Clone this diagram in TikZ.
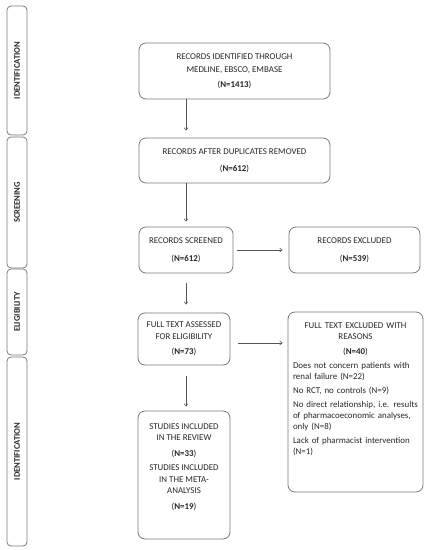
\documentclass[tikz,border=0pt]{standalone}
\usepackage{fontspec}
\setmainfont{Carlito}
\usetikzlibrary{arrows.meta}
\definecolor{boxgray}{HTML}{7A7A7A}
\definecolor{txt}{HTML}{262626}
\definecolor{arr}{HTML}{555555}
\begin{document}
\begin{tikzpicture}[x=1pt,y=-1pt,
  box/.style={draw=boxgray, line width=0.8pt, rounded corners=7pt, align=center,
    inner sep=2pt, text=txt, font=\fontsize{8.9}{11.5}\selectfont},
  phase/.style={draw=boxgray, line width=0.8pt, rounded corners=4pt, rotate=90,
    minimum height=20pt, inner sep=0pt, text=txt, font=\fontsize{8.6}{10}\selectfont\bfseries},
  conn/.style={draw=arr, line width=0.6pt, -{Straight Barb[length=2.5pt,width=4pt]}},
  lbl/.style={align=left, text=txt, inner sep=0pt, text width=125pt,
    font=\fontsize{8.9}{11}\selectfont}
]
\useasboundingbox (0,0) rectangle (428,550);
% phases
\node[phase, minimum width=129pt] (p1) at (17,70.5) {IDENTIFICATION};
\node[phase, minimum width=131pt] (p2) at (17,202.5) {SCREENING};
\node[phase, minimum width=86pt] (p3) at (17,312) {ELIGIBILITY};
\node[phase, minimum width=189pt] (p4) at (17,451.5) {IDENTIFICATION};
% boxes
\node[box, minimum width=191pt, minimum height=56pt] (b1) at (234.5,71)
  {RECORDS IDENTIFIED THROUGH\\[1.5pt] MEDLINE, EBSCO, EMBASE\\[4pt] (\textbf{N=1413})};
\node[box, minimum width=191pt, minimum height=45pt] (b2) at (234.5,160.5)
  {RECORDS AFTER DUPLICATES REMOVED\\[5pt] (\textbf{N=612})};
\node[box, minimum width=94pt, minimum height=46pt] (b3) at (186,250)
  {RECORDS SCREENED\\[7pt] (\textbf{N=612})};
\node[box, minimum width=131pt, minimum height=46pt] (b3x) at (354.5,250)
  {RECORDS EXCLUDED\\[7pt] (\textbf{N=539})};
\node[box, minimum width=92pt, minimum height=52pt] (b4) at (184,339)
  {FULL TEXT ASSESSED\\ FOR ELIGIBILITY\\[4pt] (\textbf{N=73})};
\node[box, minimum width=135pt, minimum height=180pt] (b4x) at (355.5,402) {};
\node[lbl, anchor=north] (b4xt) at (355.5,322.5)
  {{\centering FULL TEXT EXCLUDED WITH\\ REASONS\\[4pt] (\textbf{N=40})\par}\vspace{3pt}
   Does not concern patients with renal failure (N=22)\par\vspace{3pt}
   No RCT, no controls (N=9)\par\vspace{3pt}
   No direct relationship, i.e. results of pharmacoeconomic analyses, only (N=8)\par\vspace{3pt}
   Lack of pharmacist intervention (N=1)\par};
\node[box, minimum width=92pt, minimum height=128pt] (b5) at (184,475)
  {STUDIES INCLUDED\\ IN THE REVIEW\\[4pt] (\textbf{N=33})\\[3pt]
   STUDIES INCLUDED\\ IN THE META-\\ ANALYSIS\\[4pt] (\textbf{N=19})\\[6pt]};
% connectors
\draw[conn, shorten >=7pt] (b1.south -| b3) -- (b2.north -| b3);
\draw[conn, shorten >=5pt] (b2.south -| b3) -- (b3.north);
\draw[conn, shorten <=10pt, shorten >=8pt] (b3.south) -- (b4.north -| b3);
\draw[conn, shorten <=4pt, shorten >=6pt] (b3.east) -- (b3x.west);
\draw[conn, shorten <=8pt, shorten >=5pt] (b4.east |- 0,343) -- (b4x.west |- 0,343);
\draw[conn, shorten <=11pt, shorten >=4pt] (b4.south -| b3) -- (b5.north -| b3);
\end{tikzpicture}
\end{document}
